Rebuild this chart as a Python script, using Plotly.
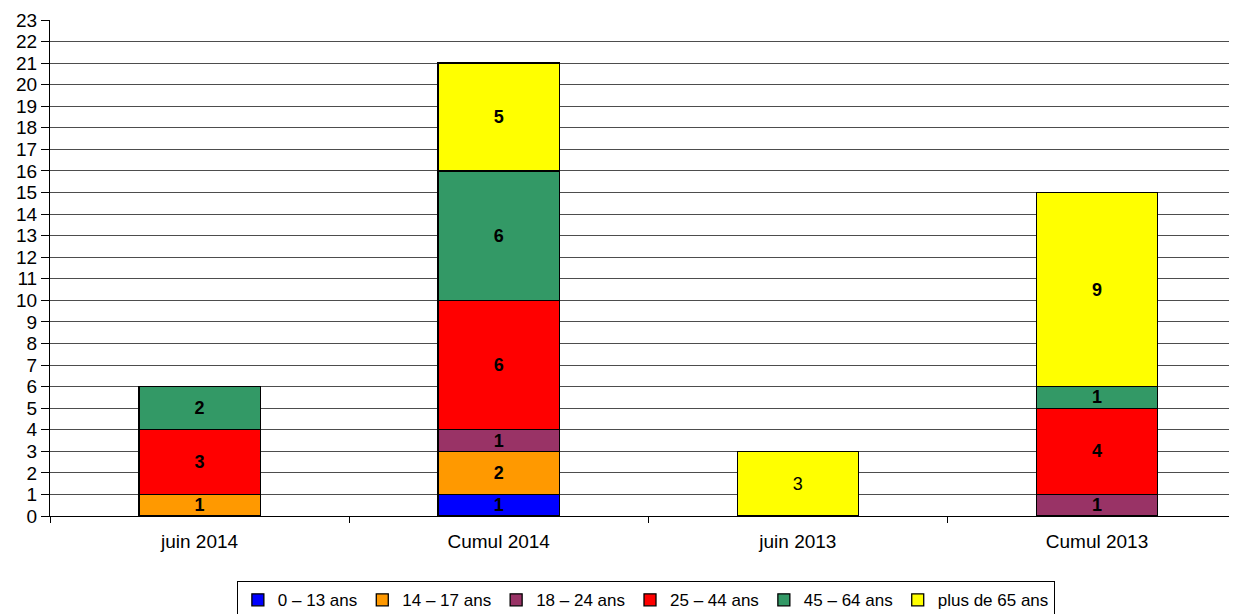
import plotly.graph_objects as go

categories = ["juin 2014", "Cumul 2014", "juin 2013", "Cumul 2013"]
series_names = ["0 – 13 ans", "14 – 17 ans", "18 – 24 ans", "25 – 44 ans", "45 – 64 ans", "plus de 65 ans"]
v_0_13 = [0, 1, 0, 0]
v_14_17 = [1, 2, 0, 0]
v_18_24 = [0, 1, 0, 1]
v_25_44 = [3, 6, 0, 4]
v_45_64 = [2, 6, 0, 1]
v_65_plus = [0, 5, 3, 9]
colors = ["#0000FF", "#FF9900", "#993366", "#FF0000", "#339966", "#FFFF00"]
# labels that are not bold in the reference (series index, category index)
plain_labels = {(5, 2)}

all_values = [v_0_13, v_14_17, v_18_24, v_25_44, v_45_64, v_65_plus]
y_ticks = list(range(0, 24))

FONT = "Liberation Sans"

fig = go.Figure()
for si, (name, vals, col) in enumerate(zip(series_names, all_values, colors)):
    ys = [v if v else None for v in vals]
    texts = []
    for ci, v in enumerate(vals):
        if not v:
            texts.append("")
        elif (si, ci) in plain_labels:
            texts.append(str(v))
        else:
            texts.append("<b>%d</b>" % v)
    fig.add_trace(go.Bar(
        name=name, x=categories, y=ys, text=texts,
        texttemplate="%{text}",
        textposition="inside", insidetextanchor="middle", textangle=0,
        constraintext="none",
        textfont=dict(color="black", size=18, family=FONT),
        marker=dict(color=col, line=dict(color="#000000", width=1.3)),
        width=0.405, hoverinfo="skip",
    ))

fig.update_layout(
    barmode="stack",
    width=1229, height=606,
    margin=dict(l=42, r=0, t=12, b=98),
    paper_bgcolor="white", plot_bgcolor="white",
    font=dict(family=FONT, size=19, color="black"),
    showlegend=True,
    legend=dict(
        orientation="h", x=0.502, xanchor="center",
        yref="container", y=0.054, yanchor="top",
        bordercolor="black", borderwidth=1, font=dict(size=17, family=FONT),
        itemwidth=30, tracegroupgap=0, traceorder="normal",
    ),
    xaxis=dict(
        type="category", range=[-0.5, 3.468], automargin=False,
        showline=True, linecolor="black", linewidth=1,
        ticks="outside", tickson="boundaries", ticklen=6, tickcolor="black",
        tickfont=dict(size=19, family=FONT), ticklabelstandoff=8,
        showgrid=False, zeroline=False,
    ),
    yaxis=dict(
        range=[0, 23], tickvals=y_ticks, ticktext=[str(t) for t in y_ticks],
        automargin=False,
        showline=True, linecolor="black", linewidth=1,
        ticks="outside", ticklen=8, tickcolor="black",
        showgrid=True, gridcolor="#4d4d4d", gridwidth=1,
        tickfont=dict(size=19, family=FONT), zeroline=False,
    ),
)

fig.write_html("out.html")
